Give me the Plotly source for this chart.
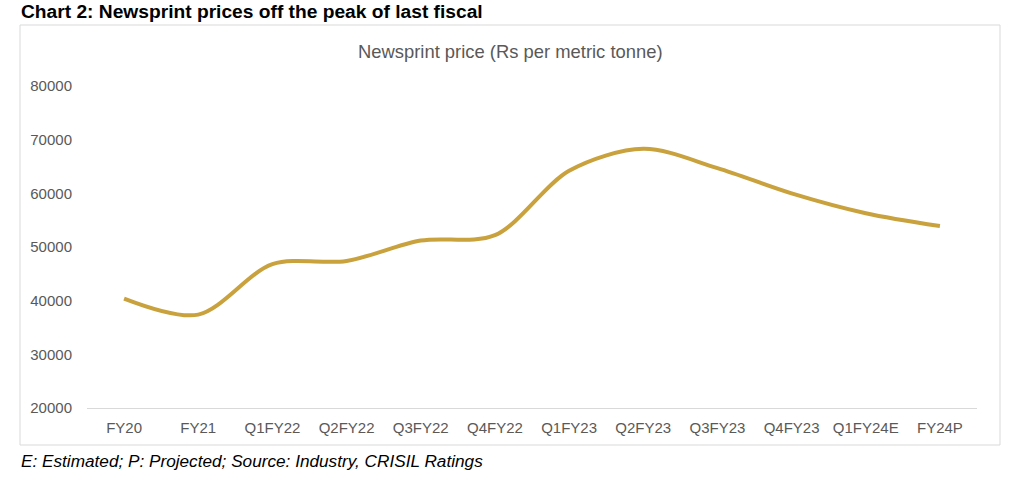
import plotly.graph_objects as go

categories = ["FY20", "FY21", "Q1FY22", "Q2FY22", "Q3FY22", "Q4FY22",
              "Q1FY23", "Q2FY23", "Q3FY23", "Q4FY23", "Q1FY24E", "FY24P"]
prices = [40400, 37400, 46800, 47400, 51200, 52200,
          64200, 68300, 64700, 60000, 56300, 53900]
y_ticks = [20000, 30000, 40000, 50000, 60000, 70000, 80000]

W, H = 1024, 484
L, R, T, B = 87, 977, 86, 408

fig = go.Figure()
fig.add_trace(go.Scatter(
    x=categories, y=prices, mode="lines",
    line=dict(color="#C9A13D", width=4, shape="spline", smoothing=0.9),
    hoverinfo="x+y", showlegend=False,
))

pw, ph = R - L, B - T
def px_x(v):
    return (v - L) / pw
def px_y(v):
    return (B - v) / ph

fig.add_shape(type="rect", xref="paper", yref="paper",
              x0=px_x(20), x1=px_x(1000), y0=px_y(445), y1=px_y(25),
              line=dict(color="#D9D9D9", width=1), fillcolor="rgba(0,0,0,0)", layer="below")

fig.add_annotation(text="<b>Chart 2: Newsprint prices off the peak of last fiscal</b>",
                   xref="paper", yref="paper", x=px_x(19), y=px_y(12),
                   xanchor="left", yanchor="middle", showarrow=False,
                   font=dict(family="Liberation Sans, Arial", size=19.2, color="#000000"))
fig.add_annotation(text="Newsprint price (Rs per metric tonne)",
                   xref="paper", yref="paper", x=px_x(510), y=px_y(52),
                   xanchor="center", yanchor="middle", showarrow=False,
                   font=dict(family="Liberation Sans, Arial", size=18.4, color="#595959"))
fig.add_annotation(text="<i>E: Estimated; P: Projected; Source: Industry, CRISIL Ratings</i>",
                   xref="paper", yref="paper", x=px_x(19), y=px_y(461),
                   xanchor="left", yanchor="middle", showarrow=False,
                   font=dict(family="Liberation Sans, Arial", size=17.2, color="#000000"))

fig.update_layout(
    width=W, height=H,
    margin=dict(l=L, r=W - R, t=T, b=H - B, pad=0),
    paper_bgcolor="white", plot_bgcolor="white",
    font=dict(family="Liberation Sans, Arial", size=15, color="#595959"),
    xaxis=dict(type="category", range=[-0.5, len(categories) - 0.5],
               showline=True, linecolor="#D9D9D9", linewidth=1,
               showgrid=False, ticks="", zeroline=False,
               tickfont=dict(size=15, color="#595959"), ticklabelstandoff=6),
    yaxis=dict(range=[20000, 80000], tickvals=y_ticks,
               ticktext=[str(v) for v in y_ticks],
               showline=False, showgrid=False, zeroline=False, ticks="",
               tickfont=dict(size=15, color="#595959"), ticklabelstandoff=14),
)

fig.write_html("out.html")
